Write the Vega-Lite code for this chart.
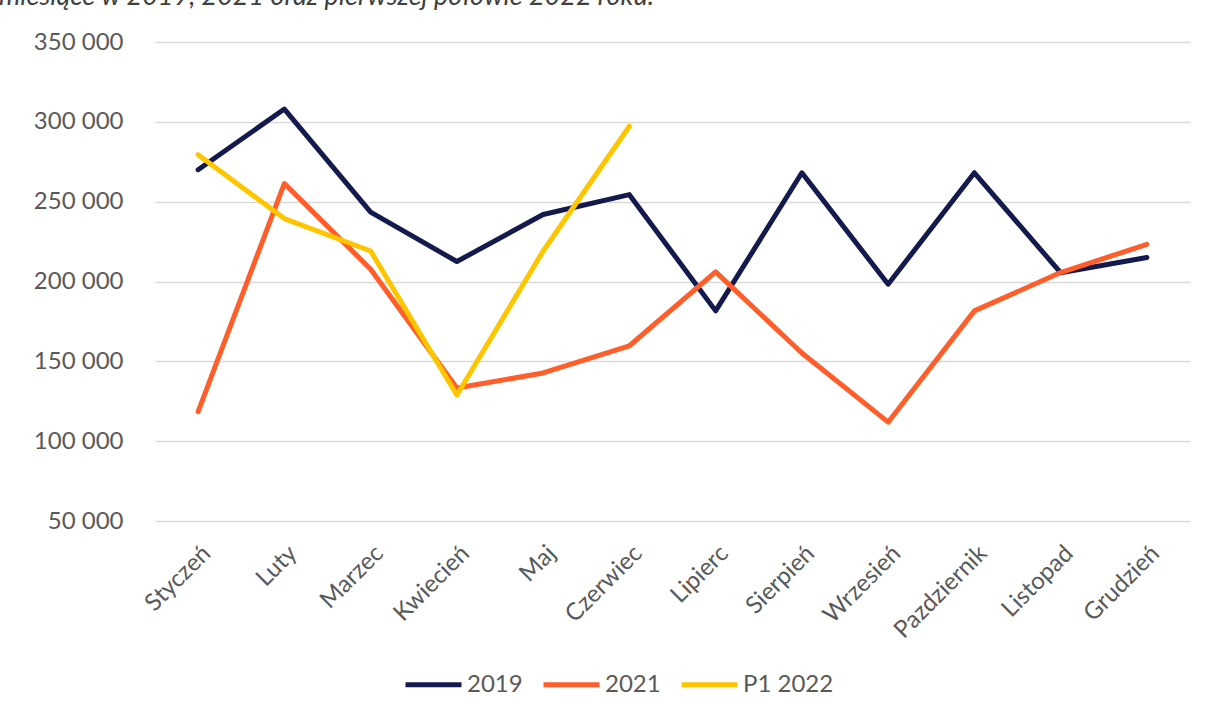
{
  "$schema": "https://vega.github.io/schema/vega-lite/v6.json",
  "autosize": {"type": "none"},
  "width": 1035,
  "height": 479,
  "padding": {"left": 155, "top": 42, "right": 18, "bottom": 192},
  "background": "white",
  "title": {
    "text": "miesiące w 2019, 2021 oraz pierwszej połowie 2022 roku.",
    "anchor": "start",
    "frame": "group",
    "dx": -156,
    "dy": 25,
    "offset": 23,
    "baseline": "alphabetic",
    "font": "Lato",
    "fontSize": 27,
    "fontStyle": "italic",
    "fontWeight": "normal",
    "color": "#404040"
  },
  "config": {
    "font": "Lato",
    "view": {"stroke": null}
  },
  "data": {
    "values": [
      {"miesiac": "Styczeń", "seria": "2019", "wartosc": 270000},
      {"miesiac": "Luty", "seria": "2019", "wartosc": 308000},
      {"miesiac": "Marzec", "seria": "2019", "wartosc": 243500},
      {"miesiac": "Kwiecień", "seria": "2019", "wartosc": 212500},
      {"miesiac": "Maj", "seria": "2019", "wartosc": 242000},
      {"miesiac": "Czerwiec", "seria": "2019", "wartosc": 254400},
      {"miesiac": "Lipierc", "seria": "2019", "wartosc": 181600},
      {"miesiac": "Sierpień", "seria": "2019", "wartosc": 268100},
      {"miesiac": "Wrzesień", "seria": "2019", "wartosc": 198300},
      {"miesiac": "Pazdziernik", "seria": "2019", "wartosc": 268100},
      {"miesiac": "Listopad", "seria": "2019", "wartosc": 205500},
      {"miesiac": "Grudzień", "seria": "2019", "wartosc": 215000},
      {"miesiac": "Styczeń", "seria": "2021", "wartosc": 118500},
      {"miesiac": "Luty", "seria": "2021", "wartosc": 261400},
      {"miesiac": "Marzec", "seria": "2021", "wartosc": 207700},
      {"miesiac": "Kwiecień", "seria": "2021", "wartosc": 133300},
      {"miesiac": "Maj", "seria": "2021", "wartosc": 142700},
      {"miesiac": "Czerwiec", "seria": "2021", "wartosc": 159750},
      {"miesiac": "Lipierc", "seria": "2021", "wartosc": 206000},
      {"miesiac": "Sierpień", "seria": "2021", "wartosc": 155200},
      {"miesiac": "Wrzesień", "seria": "2021", "wartosc": 111900},
      {"miesiac": "Pazdziernik", "seria": "2021", "wartosc": 181600},
      {"miesiac": "Listopad", "seria": "2021", "wartosc": 205600},
      {"miesiac": "Grudzień", "seria": "2021", "wartosc": 223300},
      {"miesiac": "Styczeń", "seria": "P1 2022", "wartosc": 279400},
      {"miesiac": "Luty", "seria": "P1 2022", "wartosc": 239400},
      {"miesiac": "Marzec", "seria": "P1 2022", "wartosc": 219100},
      {"miesiac": "Kwiecień", "seria": "P1 2022", "wartosc": 128900},
      {"miesiac": "Maj", "seria": "P1 2022", "wartosc": 219100},
      {"miesiac": "Czerwiec", "seria": "P1 2022", "wartosc": 297250}
    ]
  },
  "mark": {"type": "line", "strokeWidth": 5, "strokeCap": "round", "strokeJoin": "round"},
  "encoding": {
    "x": {
      "field": "miesiac",
      "type": "ordinal",
      "sort": null,
      "scale": {"type": "point", "padding": 0.5},
      "axis": {
        "title": null,
        "domain": false,
        "ticks": false,
        "grid": false,
        "labelAngle": -45,
        "labelFont": "Lato",
        "labelFontSize": 24,
        "labelColor": "#595959",
        "labelPadding": 20
      }
    },
    "y": {
      "field": "wartosc",
      "type": "quantitative",
      "scale": {"domain": [50000, 350000], "nice": false, "zero": false},
      "axis": {
        "title": null,
        "domain": false,
        "ticks": false,
        "values": [50000, 100000, 150000, 200000, 250000, 300000, 350000],
        "labelExpr": "replace(format(datum.value, ','), ',', ' ')",
        "labelFont": "Lato",
        "labelFontSize": 24,
        "labelColor": "#595959",
        "labelPadding": 32,
        "gridColor": "#D9D9D9",
        "gridWidth": 1.5
      }
    },
    "color": {
      "field": "seria",
      "type": "nominal",
      "scale": {"domain": ["2019", "2021", "P1 2022"], "range": ["#141A4E", "#FF5E2B", "#FFC600"]},
      "legend": {
        "title": null,
        "orient": "none",
        "direction": "horizontal",
        "legendX": 248,
        "legendY": 612,
        "symbolType": "stroke",
        "symbolSize": 3136,
        "symbolStrokeWidth": 5,
        "labelFont": "Lato",
        "labelFontSize": 24,
        "labelColor": "#595959",
        "labelOffset": 3,
        "columnPadding": 10
      }
    }
  }
}
